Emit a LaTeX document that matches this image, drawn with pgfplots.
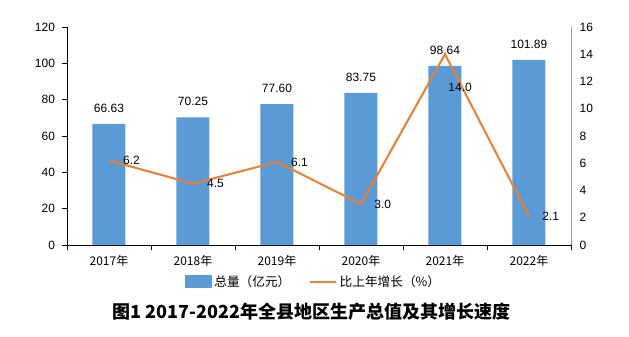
\documentclass[border=0pt]{standalone}
\usepackage{pgfplots}
\pgfplotsset{compat=1.18}
\usepackage{fontspec}
\setmainfont{Liberation Sans}
\newfontfamily\cjk{Noto Sans CJK SC}
\definecolor{barblue}{RGB}{91,155,213}
\definecolor{lineorange}{RGB}{237,125,49}
\definecolor{rgrey}{RGB}{150,150,150}
\begin{document}
\begin{tikzpicture}
\path[use as bounding box] (-50.25pt,-68.25pt) rectangle (421.5pt,183.75pt);
\begin{axis}[
  scale only axis, width=378pt, height=163.5pt,
  xmin=-0.5, xmax=5.5, ymin=0, ymax=120,
  axis x line*=bottom, axis y line*=left,
  axis line style={black, line width=0.6pt},
  xtick={0,1,2,3,4,5},
  xticklabels={{\cjk 2017年},{\cjk 2018年},{\cjk 2019年},{\cjk 2020年},{\cjk 2021年},{\cjk 2022年}},
  major x tick style={draw=none},
  minor xtick={-0.5,0.5,1.5,2.5,3.5,4.5,5.5},
  minor tick length=4pt,
  minor x tick style={black, line width=0.5pt},
  ytick={0,20,40,60,80,100,120},
  tick align=outside, major tick length=3.5pt,
  ytick style={black, line width=0.5pt},
  tick label style={font=\fontsize{9}{10}\selectfont},
  /pgf/number format/assume math mode=true,
  xticklabel style={yshift=-1pt},
  yticklabel style={xshift=-2pt},
  ybar, bar width=24.75pt,
  nodes near coords,
  nodes near coords style={font=\fontsize{9}{10}\selectfont, yshift=5pt, /pgf/number format/fixed, /pgf/number format/fixed zerofill, /pgf/number format/precision=2, /pgf/number format/assume math mode=true},
]
\addplot[fill=barblue, draw=none] coordinates {(0,66.63) (1,70.25) (2,77.60) (3,83.75) (4,98.64) (5,101.89)};
\end{axis}
\begin{axis}[
  scale only axis, width=378pt, height=163.5pt,
  xmin=-0.5, xmax=5.5, ymin=0, ymax=16,
  axis x line=none, axis y line*=right,
  axis line style={rgrey, line width=0.6pt},
  ytick={0,2,4,6,8,10,12,14,16},
  major tick length=0pt,
  yticklabel style={font=\fontsize{9}{10}\selectfont, xshift=3pt},
  /pgf/number format/assume math mode=true,
  legend style={at={(0.49,-0.168)}, anchor=center, draw=none, fill=none,
    legend columns=2, font=\cjk\fontsize{9.5}{10}\selectfont,
    /tikz/every even column/.append style={column sep=12pt},
    legend cell align=left},
]
\addlegendimage{legend image code/.code={\fill[barblue] (0pt,-4.5pt) rectangle (19.5pt,4.5pt);}}
\addlegendentry{总量（亿元）}
\addplot[lineorange, line width=1.5pt, mark=none,
  nodes near coords,
  visualization depends on={\thisrow{dx} \as \dx},
  visualization depends on={\thisrow{dy} \as \dy},
  nodes near coords style={anchor=west, text=black, font=\fontsize{9}{10}\selectfont,
    xshift=\dx pt, yshift=\dy pt,
    /pgf/number format/fixed, /pgf/number format/fixed zerofill, /pgf/number format/precision=1, /pgf/number format/assume math mode=true},
  legend image code/.code={\draw[lineorange, line width=1.5pt] (0pt,0pt) -- (19.5pt,0pt);},
] table[x=x, y=y] {
x y dx dy
0 6.2 6.5 0
1 4.5 6.5 0
2 6.1 6.5 0
3 3.0 6.0 0
4 14.0 -1.5 -24.75
5 2.1 6.0 0
};
\addlegendentry{比上年增长（\%）}
\end{axis}
\node[font=\cjk\bfseries\fontsize{13.5}{15}\selectfont] at (183.4pt,-50pt) {图1 2017-2022年全县地区生产总值及其增长速度};
\end{tikzpicture}
\end{document}
